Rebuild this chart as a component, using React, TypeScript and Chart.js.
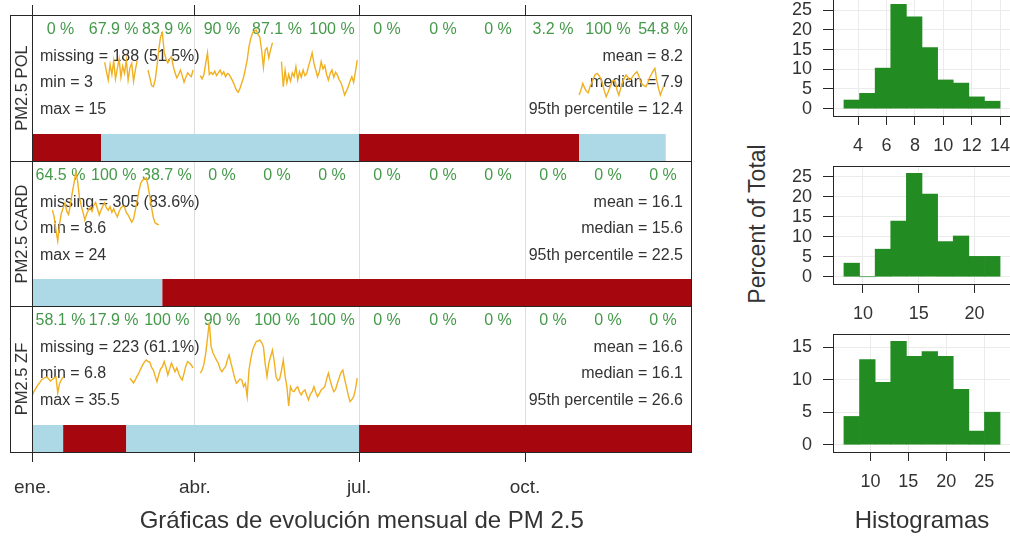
import React, { useEffect, useRef } from 'react';
import { Chart, registerables } from 'chart.js';

Chart.register(...registerables);

const FONT = '"Liberation Sans", Arial, Helvetica, sans-serif';
Chart.defaults.font.family = FONT;

const INK = '#333333';
const FRAME = '#262626';
const LINE_COLOR = '#f1b020';
const CAPTURE_GREEN = '#45994a';
const DATA_BLUE = '#add8e6';
const MISSING_RED = '#a6070f';
const HIST_GREEN = '#228b22';
const GRID = '#dedede';

// ---- calendar (day of year, 1 January = 0) ----
const monthDays = [31, 28, 31, 30, 31, 30, 31, 31, 30, 31, 30, 31];
const axisTickDays = [0, 90, 181, 273];
const axisTickLabels = ['ene.', 'abr.', 'jul.', 'oct.'];

// ---- stations ----
const stationNames = ['PM2.5 POL', 'PM2.5 CARD', 'PM2.5 ZF'];

// daily means, stored as runs of consecutive days
const polRuns = [
  { start: 40, values: [9.2, 7.5, 6.0, 8.8, 7.0, 9.5, 6.2, 8.0, 9.8, 6.5, 8.5, 7.2, 9.6, 6.0, 8.2, 9.0, 5.8, 7.8, 9.5] },
  { start: 64, values: [7.8, 6.5, 5.0, 4.8, 6.0, 8.5, 11.5, 13.8, 14.5, 11.0, 9.8, 9.1, 9.8, 10.2, 8.5, 7.3, 6.4, 7.0, 7.8, 6.8, 5.6, 6.5, 7.3, 6.9, 6.6, 7.8] },
  { start: 93, values: [6.8, 6.2, 7.0, 9.0, 10.9, 7.0, 7.4, 7.0, 7.6, 6.8, 7.3, 7.8, 7.0, 7.5, 6.6, 7.2, 7.0, 6.4, 5.8, 5.0, 4.2, 3.8, 4.5, 5.5, 6.5, 8.0, 9.6, 12.0, 13.5, 14.5, 14.8, 15.0, 14.2, 13.7, 11.4, 8.3, 11.4, 11.8, 10.0, 11.5, 12.7] },
  { start: 138, values: [9.3, 4.8, 7.8, 5.5, 7.0, 5.8, 7.3, 6.6, 8.4, 6.0, 7.5, 6.5, 7.8, 6.8, 7.2, 8.5, 9.6, 10.9, 9.0, 7.8, 6.6, 7.5, 9.3, 8.0, 8.6, 7.0, 6.0, 7.2, 7.8, 6.5, 7.4, 6.9, 6.0, 5.5, 4.5, 3.3, 4.0, 4.8, 5.8, 6.6, 5.6, 7.5, 9.6] },
  { start: 303, values: [3.3, 4.2, 5.4, 4.6, 4.0, 3.7, 4.8, 5.5, 6.4, 7.0, 7.2, 6.8, 6.3, 5.2, 4.0, 3.0, 3.8, 4.6, 5.4, 6.0, 5.8, 4.2, 3.3, 4.5, 5.6, 6.3, 6.9, 6.5, 6.0, 6.3, 6.8, 7.2, 7.5, 6.8, 5.7, 5.2, 5.0, 4.8, 5.5, 6.4, 7.0, 7.6, 8.1, 6.0, 4.5, 3.3, 4.2, 5.0] },
];
const cardRuns = [
  { start: 11, values: [15.5, 14.0, 11.0, 8.6, 12.5, 14.8, 16.0, 17.1, 15.2, 14.5, 16.8, 19.3, 21.5, 24.0, 22.0, 18.4, 16.5, 15.0, 13.3, 14.6, 15.5, 16.0, 15.2, 16.6, 17.2, 15.8, 14.4, 15.5, 16.4, 17.1, 16.0, 15.5, 16.3, 15.0, 15.8, 14.8, 14.0, 15.2, 16.0, 16.4, 16.2, 15.0, 14.4, 13.6, 12.8, 13.5, 15.5, 17.5, 19.8, 21.5, 22.2, 22.4, 22.7, 21.0, 18.5, 16.0, 13.8, 12.6, 12.4, 12.2] },
];
const zfRuns = [
  { start: 0, values: [10.6, 12.0, 13.0, 14.0, 14.8, 15.7, 16.2, 16.5, 16.7, 16.0, 15.3, 15.9, 16.4, 16.7, 11.3, 14.5, 15.7, 16.7] },
  { start: 54, values: [16.3, 15.5, 14.7, 15.8, 17.0, 18.1, 19.5, 20.8, 21.8, 22.5, 22.0, 21.8, 20.0, 19.1, 17.0, 15.1, 17.5, 19.5, 20.2, 22.0, 20.0, 17.4, 19.5, 21.5, 20.0, 18.5, 19.8, 18.0, 16.5, 15.7, 18.0, 20.5, 22.0, 21.5, 20.8, 19.8] },
  { start: 93, values: [18.0, 19.1, 21.0, 24.8, 30.0, 35.5, 27.1, 25.0, 23.7, 22.5, 21.4, 19.5, 18.5, 19.5, 20.2, 22.5, 24.2, 21.5, 19.1, 16.5, 14.6, 15.2, 16.0, 15.7, 13.4, 14.5, 10.0, 19.1, 23.0, 25.9, 27.5, 28.8, 29.0, 29.4, 28.5, 27.1, 21.0, 16.8, 21.5, 23.7, 25.9, 22.0, 16.8, 15.5, 16.0, 19.0, 22.5, 17.0, 13.4, 6.8, 13.4, 12.0, 11.7, 12.8, 13.4, 11.5, 10.6, 11.8, 12.3, 10.5, 8.9, 10.8, 11.7, 13.4, 11.5, 10.0, 11.0, 12.3, 12.8, 13.4, 16.0, 18.0, 15.5, 13.4, 11.7, 12.5, 14.6, 16.5, 18.2, 19.1, 16.0, 13.4, 10.5, 8.3, 9.0, 10.0, 12.5, 16.3] },
];

// monthly data capture (%)
const capturePol = [0, 67.9, 83.9, 90, 87.1, 100, 0, 0, 0, 3.2, 100, 54.8];
const captureCard = [64.5, 100, 38.7, 0, 0, 0, 0, 0, 0, 0, 0, 0];
const captureZf = [58.1, 17.9, 100, 90, 100, 100, 0, 0, 0, 0, 0, 0];

// availability runs: [fromDay, toDay, hasData]
const availPol: [number, number, boolean][] = [[0, 38, false], [38, 181, true], [181, 303, false], [303, 351, true]];
const availCard: [number, number, boolean][] = [[0, 72, true], [72, 365, false]];
const availZf: [number, number, boolean][] = [[0, 17, true], [17, 52, false], [52, 181, true], [181, 365, false]];

// summary statistics
const statMissing = [188, 305, 223];
const statMissingPct = [51.5, 83.6, 61.1];
const statMin = [3, 8.6, 6.8];
const statMax = [15, 24, 35.5];
const statMean = [8.2, 16.1, 16.6];
const statMedian = [7.9, 15.6, 16.1];
const statP95 = [12.4, 22.5, 26.6];

// histograms: bin breaks and percent of total per bin
const histPolBreaks = [3, 4.1, 5.2, 6.3, 7.4, 8.5, 9.6, 10.7, 11.8, 12.9, 14];
const histPolPct = [2.2, 3.9, 10.3, 26.5, 23.3, 15.5, 7.3, 6.5, 3.0, 1.9];
const histCardBreaks = [8.3, 9.7, 11.1, 12.5, 13.9, 15.3, 16.7, 18.1, 19.5, 20.9, 22.3];
const histCardPct = [3.4, 0, 6.9, 13.9, 25.9, 20.7, 8.8, 10.2, 5.1, 5.1];
const histZfBreaks = [6.5, 8.56, 10.62, 12.68, 14.74, 16.8, 18.86, 20.92, 22.98, 25.04, 27.1];
const histZfPct = [4.35, 13.1, 9.6, 15.9, 13.6, 14.3, 13.6, 8.5, 2.1, 5.0];
const histPolTicks = [4, 6, 8, 10, 12, 14];
const histCardTicks = [10, 15, 20];
const histZfTicks = [10, 15, 20, 25];

// ---- page layout ----
const PANEL_TOPS = [15, 161, 306];
const PANEL_BOTTOMS = [161, 306, 452];
const PANEL_Y_RANGES = [[-8.56, 17.7], [-5.9, 26.46], [-8.92, 40.97]];
const TOP_AXIS_H = 10;
const BOTTOM_AXIS_H = 85;
const MAIN_W = 692;
const BAR_H = 27;

const HIST_LEFT = 773;
const HIST_W = 240;
const HIST_AXIS_W = 60;
const HIST_TOPS = [-3, 166, 334];
const HIST_BOTTOMS = [116, 284, 452];
const HIST_XAXIS_H = [45, 45, 85];

const seriesRuns = [polRuns, cardRuns, zfRuns];
const captures = [capturePol, captureCard, captureZf];
const availability = [availPol, availCard, availZf];
const histBreaks = [histPolBreaks, histCardBreaks, histZfBreaks];
const histPct = [histPolPct, histCardPct, histZfPct];
const histTicks = [histPolTicks, histCardTicks, histZfTicks];

function runsToPoints(runs: { start: number; values: number[] }[]) {
  const pts: { x: number; y: number | null }[] = [];
  runs.forEach((r) => {
    r.values.forEach((v, k) => pts.push({ x: r.start + k, y: v }));
    pts.push({ x: r.start + r.values.length - 0.5, y: null });
  });
  return pts;
}

function panelDecor(i: number) {
  return {
    id: 'panelDecor' + i,
    beforeDatasetsDraw(chart: any) {
      const { ctx, chartArea: a } = chart;
      const x = chart.scales.x;
      ctx.save();
      // data availability bar
      availability[i].forEach(([from, to, ok]) => {
        const x0 = x.getPixelForValue(from);
        const x1 = x.getPixelForValue(to);
        ctx.fillStyle = ok ? DATA_BLUE : MISSING_RED;
        ctx.fillRect(x0, a.bottom - BAR_H, x1 - x0, BAR_H);
      });
      // monthly capture rates
      ctx.font = `16px ${FONT}`;
      ctx.fillStyle = CAPTURE_GREEN;
      ctx.textAlign = 'center';
      ctx.textBaseline = 'middle';
      let start = 0;
      captures[i].forEach((c, m) => {
        ctx.fillText(`${c} %`, x.getPixelForValue(start + monthDays[m] / 2), a.top + 15);
        start += monthDays[m];
      });
      // statistics
      ctx.font = `16px ${FONT}`;
      ctx.fillStyle = INK;
      ctx.textAlign = 'left';
      const lx = a.left + 7.5;
      ctx.fillText(`missing = ${statMissing[i]} (${statMissingPct[i]}%)`, lx, a.top + 42);
      ctx.fillText(`min = ${statMin[i]}`, lx, a.top + 68);
      ctx.fillText(`max = ${statMax[i]}`, lx, a.top + 95);
      ctx.textAlign = 'right';
      const rx = a.right - 8;
      ctx.fillText(`mean = ${statMean[i]}`, rx, a.top + 42);
      ctx.fillText(`median = ${statMedian[i]}`, rx, a.top + 68);
      ctx.fillText(`95th percentile = ${statP95[i]}`, rx, a.top + 95);
      ctx.restore();
    },
  };
}

function seriesConfig(i: number): any {
  const first = i === 0;
  const last = i === 2;
  return {
    type: 'line',
    data: {
      datasets: [
        {
          data: runsToPoints(seriesRuns[i]),
          borderColor: LINE_COLOR,
          borderWidth: 1.4,
          pointRadius: 0,
          spanGaps: false,
          tension: 0,
        },
      ],
    },
    options: {
      responsive: false,
      animation: false,
      events: [],
      layout: { padding: { left: 32.5, right: 1, top: 0, bottom: 0 } },
      plugins: { legend: { display: false }, tooltip: { enabled: false } },
      scales: {
        x: {
          type: 'linear',
          position: last ? 'bottom' : 'top',
          min: 0,
          max: 365,
          afterBuildTicks: (ax: any) => {
            ax.ticks = axisTickDays.map((v) => ({ value: v }));
          },
          afterFit: (ax: any) => {
            ax.height = first ? TOP_AXIS_H : last ? BOTTOM_AXIS_H : 0;
            ax.paddingLeft = 0;
            ax.paddingRight = 0;
          },
          ticks: {
            display: last,
            autoSkip: false,
            maxRotation: 0,
            padding: 14,
            color: INK,
            font: { size: 19 },
            callback: (v: any) => axisTickLabels[axisTickDays.indexOf(Number(v))] ?? '',
          },
          grid: { color: GRID, drawTicks: first || last, tickLength: 10, tickColor: FRAME, lineWidth: 1 },
          border: { display: false },
          title: {
            display: last,
            text: 'Gráficas de evolución mensual de PM 2.5',
            color: INK,
            font: { size: 24 },
            padding: { top: 0, bottom: 1 },
          },
        },
        y: { display: false, min: PANEL_Y_RANGES[i][0], max: PANEL_Y_RANGES[i][1] },
      },
    },
    plugins: [panelDecor(i)],
  };
}

const histFrame = {
  id: 'histFrame',
  afterDraw(chart: any) {
    const { ctx, chartArea: a } = chart;
    ctx.save();
    ctx.strokeStyle = FRAME;
    ctx.lineWidth = 1;
    ctx.strokeRect(Math.round(a.left) + 0.5, Math.round(a.top) + 0.5, Math.round(a.right - a.left), Math.round(a.bottom - a.top));
    ctx.restore();
  },
};

function histConfig(i: number): any {
  const br = histBreaks[i];
  const pct = histPct[i];
  const span = br[br.length - 1] - br[0];
  const top = Math.max(...pct);
  const yTicks: number[] = [];
  for (let t = 0; t <= top; t += 5) yTicks.push(t);
  return {
    type: 'bar',
    data: {
      datasets: [
        {
          data: pct.map((p, k) => ({ x: (br[k] + br[k + 1]) / 2, y: p })),
          backgroundColor: HIST_GREEN,
          borderWidth: 0,
          barPercentage: 1,
          categoryPercentage: 1,
        },
      ],
    },
    options: {
      responsive: false,
      animation: false,
      events: [],
      layout: { padding: { left: 0, right: 2, top: 0, bottom: 0 } },
      plugins: { legend: { display: false }, tooltip: { enabled: false } },
      scales: {
        x: {
          type: 'linear',
          offset: false,
          min: br[0] - 0.07 * span,
          max: br[br.length - 1] + 0.07 * span,
          afterBuildTicks: (ax: any) => {
            ax.ticks = histTicks[i].map((v) => ({ value: v }));
          },
          afterFit: (ax: any) => {
            ax.height = HIST_XAXIS_H[i];
            ax.paddingLeft = 0;
            ax.paddingRight = 0;
          },
          ticks: { autoSkip: false, maxRotation: 0, padding: 10, color: INK, font: { size: 18 }, callback: (v: any) => String(v) },
          grid: { offset: false, color: '#ebebeb', tickColor: FRAME, tickLength: 9 },
          border: { display: false },
          title: {
            display: i === 2,
            text: 'Histogramas',
            color: INK,
            font: { size: 24 },
            padding: { top: 0, bottom: 1 },
          },
        },
        y: {
          type: 'linear',
          min: -0.07 * top,
          max: 1.07 * top,
          afterBuildTicks: (ax: any) => {
            ax.ticks = yTicks.map((v) => ({ value: v }));
          },
          afterFit: (ax: any) => {
            ax.width = HIST_AXIS_W;
            ax.paddingTop = 0;
            ax.paddingBottom = 0;
          },
          ticks: { autoSkip: false, padding: 11, color: INK, font: { size: 18 }, callback: (v: any) => String(v) },
          grid: { color: '#ebebeb', tickColor: FRAME, tickLength: 10 },
          border: { display: false },
        },
      },
    },
    plugins: [histFrame],
  };
}

export default function App() {
  const m0 = useRef<HTMLCanvasElement>(null);
  const m1 = useRef<HTMLCanvasElement>(null);
  const m2 = useRef<HTMLCanvasElement>(null);
  const h0 = useRef<HTMLCanvasElement>(null);
  const h1 = useRef<HTMLCanvasElement>(null);
  const h2 = useRef<HTMLCanvasElement>(null);
  const mainRefs = [m0, m1, m2];
  const histRefs = [h0, h1, h2];

  useEffect(() => {
    const charts: Chart[] = [];
    mainRefs.forEach((r, i) => {
      if (r.current) charts.push(new Chart(r.current, seriesConfig(i)));
    });
    histRefs.forEach((r, i) => {
      if (r.current) charts.push(new Chart(r.current, histConfig(i)));
    });
    return () => charts.forEach((c) => c.destroy());
  }, []);

  const mainTop = (i: number) => (i === 0 ? PANEL_TOPS[0] - TOP_AXIS_H : PANEL_TOPS[i]);
  const mainHeight = (i: number) =>
    PANEL_BOTTOMS[i] - PANEL_TOPS[i] + (i === 0 ? TOP_AXIS_H : i === 2 ? BOTTOM_AXIS_H : 0);

  const line = (left: number, top: number, width: number, height: number, key: string) => (
    <div key={key} style={{ position: 'absolute', left, top, width, height, background: FRAME }} />
  );

  return (
    <div
      style={{
        position: 'fixed',
        left: 0,
        top: 0,
        width: 1010,
        height: 537,
        overflow: 'hidden',
        background: '#ffffff',
        fontFamily: FONT,
      }}
    >
      {mainRefs.map((r, i) => (
        <canvas
          key={'m' + i}
          ref={r}
          width={MAIN_W}
          height={mainHeight(i)}
          style={{ position: 'absolute', left: 0, top: mainTop(i), width: MAIN_W, height: mainHeight(i) }}
        />
      ))}
      {histRefs.map((r, i) => {
        const h = HIST_BOTTOMS[i] - HIST_TOPS[i] + HIST_XAXIS_H[i];
        return (
          <canvas
            key={'h' + i}
            ref={r}
            width={HIST_W}
            height={h}
            style={{ position: 'absolute', left: HIST_LEFT, top: HIST_TOPS[i], width: HIST_W, height: h }}
          />
        );
      })}
      {/* panel frame and strip column */}
      <div
        style={{
          position: 'absolute',
          left: 10,
          top: 15,
          width: 682,
          height: 438,
          border: `1px solid ${FRAME}`,
          boxSizing: 'border-box',
        }}
      />
      {line(32, 15, 1, 437, 'strip')}
      {line(10, 161, 682, 1, 'sep1')}
      {line(10, 306, 682, 1, 'sep2')}
      {stationNames.map((name, i) => (
        <div
          key={name}
          style={{
            position: 'absolute',
            left: 21,
            top: (PANEL_TOPS[i] + PANEL_BOTTOMS[i]) / 2,
            transform: 'translate(-50%, -50%) rotate(-90deg)',
            fontSize: 16.5,
            color: INK,
            whiteSpace: 'nowrap',
          }}
        >
          {name}
        </div>
      ))}
      <div
        style={{
          position: 'absolute',
          left: 757,
          top: 224,
          transform: 'translate(-50%, -50%) rotate(-90deg)',
          fontSize: 23,
          color: INK,
          whiteSpace: 'nowrap',
        }}
      >
        Percent of Total
      </div>
    </div>
  );
}
